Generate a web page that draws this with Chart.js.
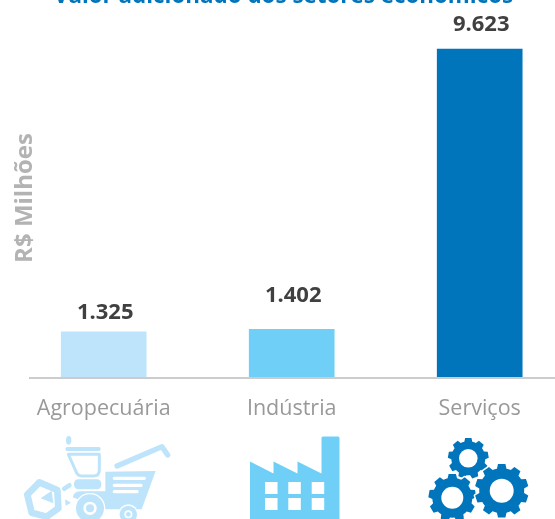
<!DOCTYPE html>
<html lang="pt-BR">
<head>
<meta charset="utf-8">
<title>Valor adicionado dos setores econômicos</title>
<script src="https://cdn.jsdelivr.net/npm/chart.js@4"></script>
<style>
  html, body { margin: 0; padding: 0; background: #fff; overflow: hidden; }
  #wrap { width: 555px; height: 519px; overflow: hidden; }
</style>
</head>
<body>
<div id="wrap"><canvas id="myChart" width="583" height="519"></canvas></div>
<script>
const chartTitle = 'Valor adicionado dos setores econômicos';
const axisTitle = 'R$ Milhões';
const setores = ['Agropecuária', 'Indústria', 'Serviços'];
const valores = [1325, 1402, 9623];
const valorLabels = ['1.325', '1.402', '9.623'];
const cores = ['#bde4fa', '#6fcff6', '#0075bc'];

const FONT = '"Open Sans", sans-serif';

// Titulo, eixo e linha de base
const decorPlugin = {
  id: 'decor',
  afterDraw(chart) {
    const { ctx, scales } = chart;
    const base = scales.y.getPixelForValue(0);
    ctx.save();
    ctx.strokeStyle = '#cccccc';
    ctx.lineWidth = 2;
    ctx.beginPath();
    ctx.moveTo(29, base + 1);
    ctx.lineTo(555, base + 1);
    ctx.stroke();

    ctx.fillStyle = cores[2];
    ctx.font = 'bold 22.4px ' + FONT;
    ctx.textAlign = 'center';
    ctx.textBaseline = 'alphabetic';
    ctx.fillText(chartTitle, 283.5, 3);

    ctx.translate(25, 198);
    ctx.rotate(-Math.PI / 2);
    ctx.fillStyle = '#b3b3b3';
    ctx.font = 'bold 24px ' + FONT;
    ctx.textBaseline = 'middle';
    ctx.fillText(axisTitle, 0, 0);
    ctx.restore();
  },
};

// Valores acima das barras
const valuePlugin = {
  id: 'valueLabels',
  afterDatasetsDraw(chart, args, opts) {
    const { ctx } = chart;
    ctx.save();
    ctx.fillStyle = '#404040';
    ctx.font = 'bold 22px ' + FONT;
    ctx.textAlign = 'center';
    ctx.textBaseline = 'middle';
    chart.getDatasetMeta(0).data.forEach((bar, i) => {
      ctx.fillText(valorLabels[i], bar.x + 1.5, bar.y - opts.gaps[i]);
    });
    ctx.restore();
  },
};

function drawGear(ctx, cx, cy, rOut, rIn, hole, teeth, color) {
  const step = (Math.PI * 2) / teeth;
  const path = new Path2D();
  for (let i = 0; i < teeth; i++) {
    const a = i * step - Math.PI / 2;
    const pts = [
      [rIn, a - step * 0.5],
      [rIn, a - step * 0.34],
      [rOut, a - step * 0.22],
      [rOut, a + step * 0.22],
      [rIn, a + step * 0.34],
    ];
    pts.forEach(([r, t]) => path.lineTo(cx + r * Math.cos(t), cy + r * Math.sin(t)));
  }
  path.closePath();
  ctx.strokeStyle = '#fff';
  ctx.lineWidth = 3;
  ctx.lineJoin = 'round';
  ctx.stroke(path);
  ctx.fillStyle = color;
  ctx.fill(path);
  ctx.fillStyle = '#fff';
  ctx.beginPath();
  ctx.arc(cx, cy, hole, 0, Math.PI * 2);
  ctx.fill();
}

function drawFactory(ctx, color) {
  ctx.fillStyle = color;
  ctx.fill(new Path2D(
    'M250 461.5 L273.5 473.5 V461.5 L297.5 473.5 V461.5 L321.5 473.5 V438 Q321.5 436.5 323 436.5 H338 Q339.5 436.5 339.5 438 V519 H250 Z'
  ));
  ctx.fillStyle = '#fff';
  [265, 288.3, 311.7].forEach((x) => {
    [482, 498].forEach((y) => ctx.fillRect(x, y, 12.5, 12));
  });
}

// Coordenadas do trator em escala 3x
function drawTractor(ctx, color) {
  ctx.save();
  ctx.translate(0, 420);
  ctx.scale(1 / 3, 1 / 3);
  ctx.fillStyle = color;
  ctx.strokeStyle = color;
  ctx.lineJoin = 'round';
  ctx.lineCap = 'round';

  ctx.beginPath();
  ctx.ellipse(206, 61, 8, 13, 0, 0, Math.PI * 2);
  ctx.fill();

  ctx.beginPath();
  ctx.roundRect(196, 81, 106, 12, 6);
  ctx.fill();

  ctx.lineWidth = 9;
  ctx.stroke(new Path2D('M205 103 H298 V150 Q298 168 280 168 H245 Q232 168 226 150 Z'));

  ctx.beginPath();
  ctx.roundRect(222, 178, 82, 30, 13);
  ctx.fill();

  ctx.fill(new Path2D('M218 232 Q222 214 240 214 H316 V155 L467 153 L425 268 H316 Z'));

  ctx.lineWidth = 16;
  ctx.stroke(new Path2D('M351 138 L486 80 L503 105'));

  ctx.lineWidth = 20;
  ctx.stroke(new Path2D('M118 187 L172 210 L175 265 L140 290 L95 278 L82 224 Z'));
  ctx.fill(new Path2D('M155 212 L122 235 L160 250 Z'));
  ctx.lineWidth = 14;
  ctx.stroke(new Path2D('M193 206 L208 196'));
  ctx.fill(new Path2D('M195 238 L213 248 L197 257 Z'));

  ctx.fillStyle = '#fff';
  ctx.beginPath();
  ctx.roundRect(338, 170, 100, 10, 5);
  ctx.roundRect(338, 191, 90, 10, 5);
  ctx.roundRect(338, 210, 78, 10, 5);
  ctx.fill();

  [[270, 265, 46, 42, 20], [385, 283, 30, 26, 12]].forEach(([x, y, gap, r, hole]) => {
    ctx.fillStyle = '#fff';
    ctx.beginPath();
    ctx.arc(x, y, gap, 0, Math.PI * 2);
    ctx.fill();
    ctx.fillStyle = color;
    ctx.beginPath();
    ctx.arc(x, y, r, 0, Math.PI * 2);
    ctx.fill();
    ctx.fillStyle = '#fff';
    ctx.beginPath();
    ctx.arc(x, y, hole, 0, Math.PI * 2);
    ctx.fill();
    ctx.fillStyle = color;
    ctx.beginPath();
    ctx.arc(x, y, hole * 0.6, 0, Math.PI * 2);
    ctx.fill();
  });
  ctx.restore();
}

const iconPlugin = {
  id: 'icons',
  afterDraw(chart) {
    const { ctx } = chart;
    ctx.save();
    drawTractor(ctx, cores[0]);
    drawFactory(ctx, cores[1]);
    drawGear(ctx, 468.3, 458.3, 20.5, 17, 9.3, 9, cores[2]);
    drawGear(ctx, 452.3, 497.7, 24, 20, 11, 9, cores[2]);
    drawGear(ctx, 501.7, 490.7, 27, 22.5, 12, 10, cores[2]);
    ctx.restore();
  },
};

const myChart = new Chart(document.getElementById('myChart'), {
  type: 'bar',
  data: {
    labels: setores,
    datasets: [
      {
        data: valores,
        backgroundColor: cores,
        borderWidth: 0,
        barThickness: 85,
      },
    ],
  },
  options: {
    responsive: false,
    animation: false,
    layout: { padding: { left: 9.7, right: 9.3, top: 0, bottom: 0 } },
    plugins: {
      legend: { display: false },
      tooltip: { enabled: false },
      valueLabels: { gaps: [19, 33, 24] },
    },
    scales: {
      x: {
        afterFit(scale) {
          scale.height = 142;
        },
        grid: { display: false, drawTicks: false },
        border: { display: false },
        ticks: {
          color: '#999999',
          font: { family: FONT, size: 21.5 },
          maxRotation: 0,
          padding: 19,
        },
      },
      y: {
        display: false,
        min: 0,
        max: 11060,
      },
    },
  },
  plugins: [valuePlugin, iconPlugin, decorPlugin],
});
</script>
</body>
</html>
